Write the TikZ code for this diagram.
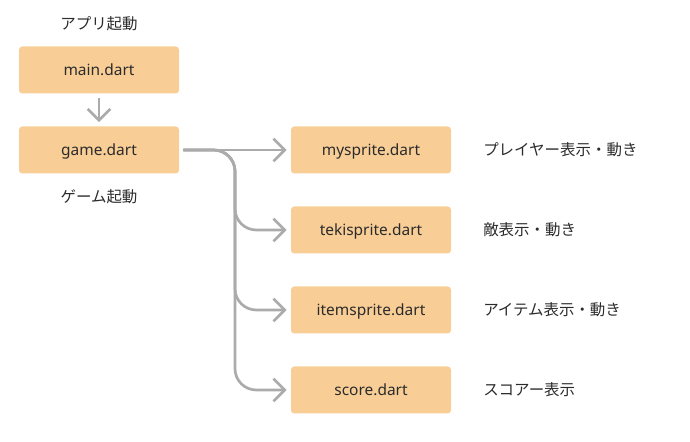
\documentclass[tikz,border=0pt]{standalone}
\usepackage{fontspec}
\setmainfont{Noto Sans}
\newfontfamily\jpfont{Noto Sans CJK JP}
\usetikzlibrary{arrows.meta}
\definecolor{boxfill}{HTML}{F8CE96}
\definecolor{txt}{HTML}{2B2B2B}
\definecolor{conn}{HTML}{ABABAB}
\tikzset{
  filebox/.style={fill=boxfill, rounded corners=2.5pt, minimum width=120pt, minimum height=35.25pt, inner sep=0pt, text=txt, text height=9.6pt, text depth=1.8pt, font=\fontsize{11.6pt}{13pt}\selectfont},
  jplabel/.style={text=txt, font=\jpfont\fontsize{11.6pt}{13pt}\selectfont, inner sep=0pt},
  connector/.style={draw=conn, line width=2pt, -{Straight Barb[length=8.5pt,width=17pt,line width=2pt]}},
}
\begin{document}
\begin{tikzpicture}[x=0.75pt,y=-0.75pt]
\useasboundingbox (0,0) rectangle (690,442);
\node[filebox] (main) at (99,70) {main.dart};
\node[filebox] (game) at (99,150) {game.dart};
\node[filebox] (my) at (371,150) {mysprite.dart};
\node[filebox] (teki) at (371,230) {tekisprite.dart};
\node[filebox] (item) at (371,310) {itemsprite.dart};
\node[filebox] (score) at (371,390) {score.dart};
\node[jplabel] (l0) at (99,24) {アプリ起動};
\node[jplabel] (l1) at (99,197) {ゲーム起動};
\node[jplabel, anchor=west] (l2) at (483,150) {プレイヤー表示・動き};
\node[jplabel, anchor=west] (l3) at (483,230) {敵表示・動き};
\node[jplabel, anchor=west] (l4) at (483,310) {アイテム表示・動き};
\node[jplabel, anchor=west] (l5) at (483,390) {スコアー表示};
\coordinate (trunk) at (235,150);
\draw[connector] ([yshift=-3pt]main.south) -- ([yshift=3pt]game.north);
\draw[connector] ([xshift=3pt]game.east) -- ([xshift=-3pt]my.west);
\draw[connector, rounded corners=16pt] ([xshift=3pt]game.east) -- (trunk) |- ([xshift=-3pt]teki.west);
\draw[connector, rounded corners=16pt] ([xshift=3pt]game.east) -- (trunk) |- ([xshift=-3pt]item.west);
\draw[connector, rounded corners=16pt] ([xshift=3pt]game.east) -- (trunk) |- ([xshift=-3pt]score.west);
\end{tikzpicture}
\end{document}
